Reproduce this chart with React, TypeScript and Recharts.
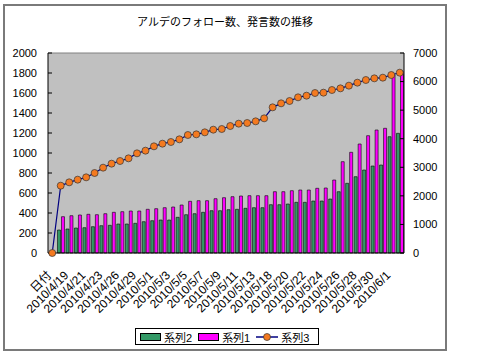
import React from 'react'
import { ComposedChart, Bar, Line, XAxis, YAxis, CartesianGrid, ReferenceLine } from 'recharts'

const dates = [
  '日付', '2010/4/18', '2010/4/19', '2010/4/20', '2010/4/21', '2010/4/22', '2010/4/23', '2010/4/25',
  '2010/4/26', '2010/4/28', '2010/4/29', '2010/4/30', '2010/5/1', '2010/5/2', '2010/5/3', '2010/5/4',
  '2010/5/5', '2010/5/6', '2010/5/7', '2010/5/8', '2010/5/9', '2010/5/10', '2010/5/11', '2010/5/12',
  '2010/5/13', '2010/5/14', '2010/5/18', '2010/5/19', '2010/5/20', '2010/5/21', '2010/5/22', '2010/5/23',
  '2010/5/24', '2010/5/25', '2010/5/26', '2010/5/27', '2010/5/28', '2010/5/29', '2010/5/30', '2010/5/31',
  '2010/6/1', '2010/6/2',
]

// 系列2 (green bars, left axis)
const series2 = [
  0, 230, 240, 250, 253, 263, 273, 277, 290, 290, 297, 313, 323, 330, 330, 357,
  383, 393, 407, 423, 423, 433, 437, 447, 453, 453, 483, 483, 490, 507, 507, 520,
  520, 540, 613, 697, 763, 830, 870, 880, 1163, 1197,
]

// 系列1 (magenta bars, left axis)
const series1 = [
  0, 363, 373, 380, 387, 383, 393, 407, 413, 420, 420, 437, 443, 453, 460, 480,
  517, 523, 523, 543, 553, 563, 570, 573, 573, 573, 613, 613, 623, 630, 630, 647,
  650, 730, 913, 1007, 1090, 1173, 1230, 1247, 1780, 1813,
]

// 系列3 (line, right axis)
const series3 = [
  0, 2356, 2473, 2567, 2648, 2800, 2987, 3127, 3220, 3313, 3488, 3582, 3733, 3827, 3885, 3978,
  4130, 4153, 4223, 4317, 4340, 4445, 4527, 4550, 4608, 4713, 5098, 5238, 5320, 5448, 5507, 5600,
  5612, 5705, 5763, 5857, 5962, 6055, 6113, 6137, 6230, 6312,
]

const leftTicks = [0, 200, 400, 600, 800, 1000, 1200, 1400, 1600, 1800, 2000]
const rightTicks = [0, 1000, 2000, 3000, 4000, 5000, 6000, 7000]

const FONT = '"Liberation Sans", Arial, "Noto Sans CJK JP", sans-serif'

const chartData = dates.map((d, i) => ({
  name: d,
  s2: series2[i],
  s1: series1[i],
  s3: series3[i],
}))

function LegendBox() {
  const label: React.CSSProperties = { fontSize: 11, marginRight: 6 }
  return (
    <div style={{
      position: 'absolute', left: 130, top: 322, width: 178, height: 15,
      border: '1px solid #000', display: 'flex', alignItems: 'center',
      paddingLeft: 4, background: '#fff', fontFamily: FONT,
    }}>
      <span style={{ width: 19, height: 6, background: '#339966', border: '1px solid #000', marginRight: 3 }} />
      <span style={label}>系列2</span>
      <span style={{ width: 19, height: 6, background: '#ff00ff', border: '1px solid #000', marginRight: 3 }} />
      <span style={label}>系列1</span>
      <svg width={22} height={10} style={{ marginRight: 3 }}>
        <line x1={0} y1={5} x2={22} y2={5} stroke="#000080" strokeWidth={1.5} />
        <circle cx={11} cy={5} r={3.5} fill="#f47a20" stroke="#333" strokeWidth={0.7} />
      </svg>
      <span style={label}>系列3</span>
    </div>
  )
}

export default function App() {
  return (
    <div style={{ position: 'absolute', left: 0, top: 0, width: 500, height: 355, background: '#fff', fontFamily: FONT }}>
      <div style={{ position: 'absolute', left: 3, top: 4, width: 440, height: 343, border: '2px solid #7a7a7a' }}>
        <div style={{
          position: 'absolute', left: 0, top: 8, width: 440, textAlign: 'center',
          fontSize: 11, lineHeight: '14px', fontFamily: '"Noto Sans CJK JP", sans-serif', color: '#000',
        }}>
          アルデのフォロー数、発言数の推移
        </div>
        <ComposedChart
          width={440}
          height={343}
          data={chartData}
          margin={{ top: 47, right: 0, left: 0, bottom: 36 }}
          barSize={3}
          barGap={1}
        >
          <CartesianGrid fill="#c0c0c0" horizontal={false} vertical={false} yAxisId="left" />
          <XAxis
            dataKey="name"
            interval={1}
            height={60}
            tickSize={0}
            tickMargin={17}
            angle={-45}
            textAnchor="end"
            tick={{ fontSize: 12, fill: '#000', dx: -6 }}
            axisLine={{ stroke: '#000' }}
          />
          <YAxis
            yAxisId="left"
            orientation="left"
            width={43}
            domain={[0, 2000]}
            ticks={leftTicks}
            tickSize={-4}
            tickMargin={15}
            tick={{ fontSize: 11, fill: '#000' }}
            axisLine={{ stroke: '#000' }}
            tickLine={{ stroke: '#000' }}
          />
          <YAxis
            yAxisId="right"
            orientation="right"
            width={41}
            domain={[0, 7000]}
            ticks={rightTicks}
            tickSize={-4}
            tickMargin={13}
            tick={{ fontSize: 11, fill: '#000', textAnchor: 'start' }}
            axisLine={{ stroke: '#000' }}
            tickLine={{ stroke: '#000' }}
          />
          <ReferenceLine yAxisId="left" y={2000} stroke="#808080" />
          <Bar yAxisId="left" dataKey="s2" name="系列2" fill="#339966" stroke="#000" strokeWidth={0.6} isAnimationActive={false} />
          <Bar yAxisId="left" dataKey="s1" name="系列1" fill="#ff00ff" stroke="#000" strokeWidth={0.6} isAnimationActive={false} />
          <Line
            yAxisId="right"
            dataKey="s3"
            name="系列3"
            type="linear"
            stroke="#000080"
            strokeWidth={1.2}
            dot={{ r: 3.5, fill: '#f47a20', stroke: '#333', strokeWidth: 0.7 }}
            isAnimationActive={false}
          />
        </ComposedChart>
        <LegendBox />
      </div>
    </div>
  )
}
